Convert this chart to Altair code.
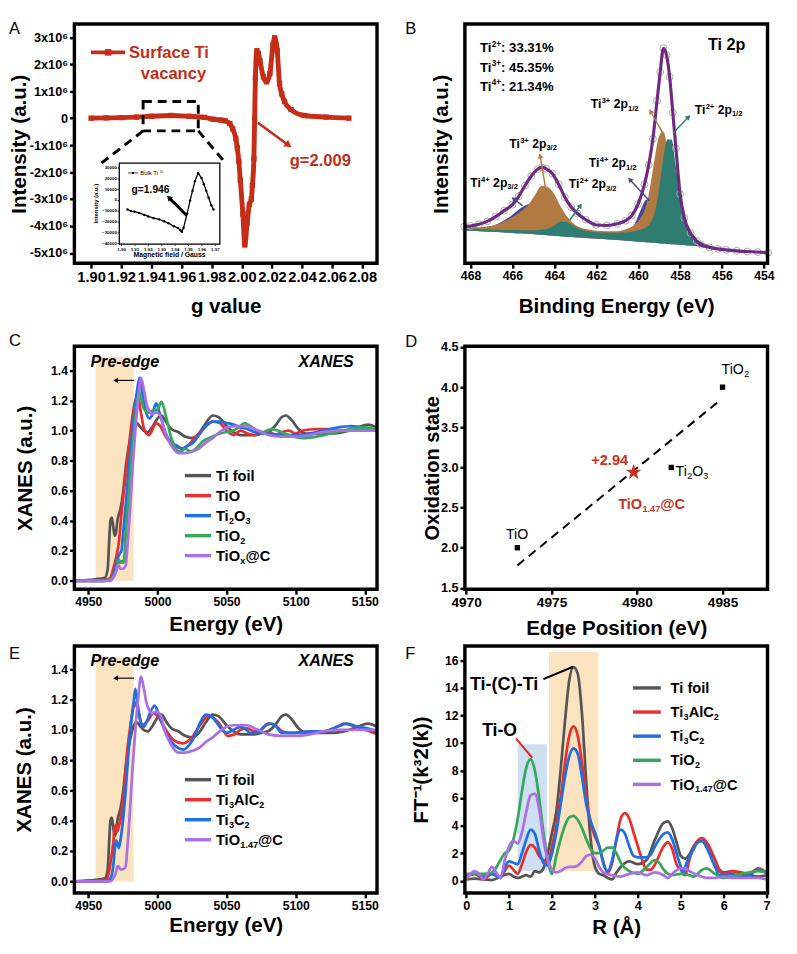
import math
import pandas as pd
import altair as alt

FONT = "Liberation Sans, Arial, Helvetica, sans-serif"

# ---------------- data ----------------
# A: EPR (surface Ti vacancy), intensity in units of 1e6
A_G = [1.900, 1.910, 1.920, 1.930, 1.940, 1.953, 1.965, 1.975, 1.981, 1.986,
       1.989, 1.992, 1.994, 1.996, 1.997, 1.998, 1.999, 2.0007, 2.002, 2.0035,
       2.005, 2.0063, 2.007, 2.008, 2.0085, 2.009, 2.010, 2.011, 2.012, 2.0143,
       2.0164, 2.0186, 2.0207, 2.0218, 2.0235, 2.025, 2.0265, 2.0283, 2.0326, 2.0412,
       2.056, 2.071]
A_I = [0.0, 0.01, 0.02, 0.04, 0.07, 0.10, 0.07, 0.03, -0.04, -0.07,
       -0.10, -0.20, -0.40, -0.75, -1.10, -1.60, -2.30, -3.55, -4.70, -3.90,
       -3.20, -3.00, -2.50, -1.50, 0.00, 1.50, 2.50, 2.40, 2.13, 1.53,
       1.35, 1.65, 2.73, 2.98, 2.50, 1.28, 0.90, 0.62, 0.32, 0.10,
       0.04, 0.00]
A_XT = [1.90, 1.92, 1.94, 1.96, 1.98, 2.00, 2.02, 2.04, 2.06, 2.08]
A_YT = [-5, -4, -3, -2, -1, 0, 1, 2, 3]
# A inset: bulk Ti3+
I_G = [1.9044, 1.9070, 1.9097, 1.9130, 1.917, 1.920, 1.924, 1.928, 1.9317, 1.935,
       1.939, 1.9420, 1.9439, 1.9450, 1.9463, 1.9490, 1.9512, 1.9530, 1.9548, 1.9572,
       1.9597, 1.9615, 1.9633, 1.9650, 1.967, 1.9687]
I_V = [-8300, -9800, -10400, -11500, -13400, -14800, -16400, -17500, -19300, -21000,
       -23800, -25500, -27400, -29000, -25300, -12000, 0, 9000, 17900, 25300,
       20800, 15000, 8900, 2500, -4500, -8300]
I_XT = [1.90, 1.91, 1.92, 1.93, 1.94, 1.95, 1.96, 1.97]
I_YT = [-40000, -30000, -20000, -10000, 0, 10000, 20000, 30000]

# B: XPS Ti 2p (arbitrary units 0-100)
B_E = [468.3, 467.5, 467.0, 466.5, 466.0, 465.6, 465.2, 464.9, 464.6, 464.3,
       464.0, 463.7, 463.4, 463.0, 462.5, 462.0, 461.5, 461.0, 460.5, 460.2,
       459.9, 459.6, 459.4, 459.2, 459.0, 458.8, 458.6, 458.4, 458.2, 458.0,
       457.7, 457.4, 457.0, 456.5, 456.0, 455.0, 453.8]
B_BASE = [14.6, 14.3, 14.1, 13.9, 13.8, 13.6, 13.5, 13.4, 13.4, 13.3,
          13.3, 13.2, 13.1, 13.0, 12.8, 12.6, 12.4, 12.2, 12.0, 11.9,
          11.8, 11.7, 11.6, 11.5, 11.3, 11.1, 10.9, 10.6, 10.3, 9.9,
          9.3, 8.6, 7.8, 6.7, 5.8, 5.1, 4.4]
B_FLOOR = [13.7, 13.4, 13.2, 13.0, 12.7, 12.5, 12.3, 12.1, 11.9, 11.7,
           11.5, 11.3, 11.1, 10.9, 10.6, 10.3, 10.0, 9.7, 9.4, 9.2,
           9.0, 8.8, 8.7, 8.6, 8.4, 8.3, 8.2, 8.0, 7.9, 7.7,
           7.5, 7.3, 7.0, 6.3, 5.5, 4.9, 4.2]
B_TI4 = [0.3, 0.8, 1.5, 3.5, 6.5, 9.5, 11.2, 10.0, 7.5, 4.8,
         2.8, 1.5, 0.8, 0.3, 0.2, 0.2, 0.3, 0.5, 1.5, 4.0,
         10.0, 15.0, 12.0, 7.0, 3.5, 1.5, 0.8, 0.5, 0.3, 0.2,
         0.1, 0, 0, 0, 0, 0, 0]
B_TI3 = [0.3, 0.8, 1.5, 3.0, 5.5, 8.0, 11.5, 15.5, 19.0, 18.5,
         15.5, 10.5, 6.5, 3.0, 1.5, 1.0, 1.0, 1.2, 2.5, 4.0,
         7.0, 13.0, 22.0, 33.0, 42.0, 44.0, 36.0, 20.0, 8.0, 3.5,
         1.5, 0.6, 0.2, 0.1, 0, 0, 0]
B_TI2 = [0, 0, 0, 0, 0.1, 0.2, 0.3, 0.4, 0.6, 1.2,
         2.5, 4.3, 4.0, 2.2, 0.8, 0.4, 0.4, 0.6, 1.0, 1.5,
         2.2, 3.5, 5.5, 10.0, 20.0, 33.0, 41.0, 41.0, 30.0, 19.0,
         8.0, 3.0, 1.2, 0.5, 0.2, 0, 0]
B_ENV_E = [468.3, 468.0, 467.6, 467.2, 466.8, 466.4, 466.0, 465.7, 465.4, 465.1,
           464.8, 464.6, 464.4, 464.1, 463.8, 463.5, 463.2, 462.9, 462.5, 462.0,
           461.5, 461.0, 460.6, 460.3, 460.0, 459.7, 459.5, 459.3, 459.1, 458.95,
           458.8, 458.65, 458.5, 458.35, 458.2, 458.0, 457.8, 457.5, 457.2, 457.0,
           456.6, 456.2, 455.8, 455.3, 454.8, 454.3, 453.8]
B_ENV = [15.3, 15.6, 16.3, 17.5, 19.5, 22.0, 24.5, 28.0, 32.5, 36.5,
         39.3, 40.1, 39.6, 37.5, 33.0, 27.6, 23.5, 20.8, 18.2, 16.0,
         15.8, 16.5, 17.8, 20.0, 24.8, 33.0, 41.1, 52.0, 68.0, 80.0,
         89.9, 87.0, 77.9, 63.0, 48.0, 28.9, 19.0, 12.6, 9.3, 7.8,
         6.6, 6.0, 5.6, 5.2, 4.9, 4.7, 4.4]
B_XT = [468, 466, 464, 462, 460, 458, 456, 454]

# C / E: XANES
FOIL_E = [4940, 4955, 4962, 4964, 4965, 4966, 4967, 4968, 4969, 4970,
          4971, 4972, 4973, 4975, 4977, 4979, 4981, 4983, 4985, 4987,
          4990, 4993, 4996, 5000, 5003, 5006, 5010, 5015, 5020, 5025,
          5030, 5035, 5040, 5044, 5050, 5055, 5060, 5065, 5070, 5075,
          5080, 5085, 5090, 5093, 5097, 5102, 5107, 5115, 5125, 5135,
          5145, 5152, 5159]
FOIL_V = [0.0, 0.01, 0.02, 0.08, 0.25, 0.40, 0.42, 0.36, 0.30, 0.32,
          0.40, 0.44, 0.47, 0.58, 0.75, 0.88, 0.97, 1.03, 1.05, 1.03,
          1.00, 0.99, 1.02, 1.08, 1.10, 1.06, 1.01, 0.99, 0.96, 0.95,
          0.98, 1.05, 1.10, 1.09, 1.03, 0.99, 0.97, 0.97, 0.97, 0.98,
          0.99, 1.03, 1.09, 1.10, 1.07, 1.01, 0.98, 0.98, 0.98, 0.99,
          1.02, 1.04, 1.02]
TIO_E = [4940, 4960, 4964, 4966, 4968, 4970, 4972, 4974, 4976, 4978,
         4980, 4982, 4984, 4986, 4988, 4990, 4992, 4994, 4996, 4999,
         5002, 5006, 5010, 5014, 5018, 5022, 5026, 5030, 5035, 5040,
         5045, 5050, 5055, 5060, 5065, 5070, 5075, 5080, 5085, 5090,
         5095, 5100, 5105, 5115, 5125, 5135, 5145, 5159]
TIO_V = [0.0, 0.0, 0.01, 0.02, 0.08, 0.15, 0.25, 0.45, 0.62, 0.78,
         0.95, 1.10, 1.20, 1.22, 1.12, 1.02, 0.98, 0.97, 1.00, 1.05,
         1.03, 0.96, 0.91, 0.89, 0.88, 0.90, 0.94, 0.98, 1.03, 1.06,
         1.05, 1.00, 0.97, 1.00, 0.98, 0.97, 0.98, 1.00, 0.97, 0.99,
         1.00, 0.98, 1.00, 1.01, 1.01, 1.00, 1.01, 1.00]
T2O3_E = [4940, 4962, 4966, 4968, 4970, 4972, 4974, 4975, 4977, 4979,
          4981, 4983, 4985, 4987, 4989, 4991, 4994, 4996, 4999, 5002,
          5006, 5010, 5014, 5018, 5022, 5026, 5030, 5035, 5040, 5045,
          5050, 5055, 5060, 5065, 5070, 5075, 5080, 5090, 5100, 5110,
          5120, 5130, 5140, 5150, 5159]
T2O3_V = [0.0, 0.0, 0.01, 0.04, 0.10, 0.17, 0.20, 0.30, 0.50, 0.72,
          0.92, 1.10, 1.25, 1.35, 1.25, 1.15, 1.08, 1.10, 1.18, 1.10,
          0.98, 0.92, 0.90, 0.88, 0.90, 0.92, 0.97, 1.03, 1.06, 1.06,
          1.05, 1.04, 1.02, 1.01, 0.99, 0.98, 0.98, 0.97, 0.97, 0.98,
          1.00, 1.02, 1.03, 1.02, 1.00]
TIO2_E = [4940, 4962, 4966, 4969, 4971, 4972, 4973, 4974, 4975, 4976,
          4977, 4979, 4981, 4983, 4985, 4987, 4988, 4990, 4993, 4996,
          5000, 5003, 5006, 5010, 5014, 5017, 5020, 5024, 5028, 5033,
          5040, 5045, 5050, 5055, 5060, 5063, 5067, 5072, 5077, 5082,
          5087, 5092, 5098, 5105, 5115, 5125, 5135, 5145, 5152, 5159]
TIO2_V = [0.0, 0.0, 0.01, 0.04, 0.10, 0.14, 0.12, 0.13, 0.12, 0.15,
          0.30, 0.55, 0.80, 1.00, 1.18, 1.25, 1.22, 1.15, 1.12, 1.13,
          1.14, 1.19, 1.10, 0.95, 0.87, 0.86, 0.88, 0.86, 0.88, 0.93,
          0.96, 0.98, 0.99, 1.00, 1.03, 1.05, 1.03, 1.00, 0.99, 1.01,
          1.00, 0.98, 0.96, 0.95, 0.96, 0.98, 1.00, 1.02, 1.02, 1.00]
TIOX_E = [4940, 4962, 4966, 4968, 4970, 4971, 4972, 4973, 4975, 4977,
          4978, 4980, 4982, 4984, 4986, 4988, 4990, 4992, 4994, 4996,
          4999, 5002, 5005, 5010, 5015, 5020, 5025, 5030, 5035, 5040,
          5045, 5050, 5055, 5060, 5065, 5070, 5075, 5080, 5090, 5100,
          5110, 5120, 5130, 5140, 5150, 5159]
TIOX_V = [0.0, 0.0, 0.0, 0.02, 0.06, 0.10, 0.10, 0.08, 0.08, 0.10,
          0.20, 0.45, 0.75, 1.00, 1.20, 1.35, 1.28, 1.18, 1.13, 1.11,
          1.12, 1.10, 1.00, 0.90, 0.85, 0.85, 0.86, 0.88, 0.92, 0.95,
          0.99, 1.02, 1.03, 1.03, 1.03, 1.01, 0.99, 0.97, 0.96, 0.96,
          0.97, 0.99, 1.00, 1.00, 1.00, 1.00]
T3A_E = [4940, 4962, 4964, 4966, 4968, 4969, 4970, 4971, 4972, 4974,
         4976, 4978, 4980, 4982, 4984, 4986, 4989, 4993, 4997, 5001,
         5006, 5012, 5018, 5024, 5030, 5037, 5044, 5051, 5056, 5060,
         5065, 5070, 5075, 5080, 5085, 5090, 5095, 5100, 5110, 5120,
         5130, 5135, 5140, 5150, 5159]
T3A_V = [0.0, 0.01, 0.03, 0.12, 0.25, 0.35, 0.37, 0.33, 0.36, 0.45,
         0.62, 0.85, 1.00, 1.12, 1.18, 1.12, 1.03, 1.06, 1.11, 1.08,
         1.00, 0.93, 0.91, 0.94, 1.02, 1.09, 1.05, 0.96, 0.97, 1.00,
         1.01, 0.99, 1.00, 1.04, 1.03, 0.99, 0.98, 0.98, 0.99, 0.99,
         1.02, 1.04, 1.03, 1.00, 0.97]
T3C_E = [4940, 4963, 4966, 4968, 4969, 4970, 4971, 4972, 4973, 4975,
         4977, 4979, 4981, 4983, 4984, 4986, 4988, 4990, 4992, 4995,
         4998, 5001, 5005, 5010, 5015, 5019, 5023, 5027, 5031, 5035,
         5040, 5045, 5050, 5055, 5060, 5063, 5067, 5072, 5077, 5082,
         5085, 5090, 5095, 5100, 5110, 5120, 5130, 5137, 5145, 5155,
         5159]
T3C_V = [0.0, 0.0, 0.02, 0.10, 0.20, 0.27, 0.25, 0.22, 0.26, 0.40,
         0.60, 0.85, 1.05, 1.20, 1.27, 1.15, 1.05, 1.02, 1.05, 1.12,
         1.16, 1.10, 1.00, 0.92, 0.88, 0.87, 0.90, 0.96, 1.05, 1.10,
         1.08, 1.02, 0.98, 1.00, 1.02, 1.01, 0.98, 0.98, 1.02, 1.04,
         1.03, 0.98, 0.98, 0.98, 0.99, 0.99, 1.02, 1.04, 1.02, 1.00,
         0.98]
XAN_XT = [4950, 5000, 5050, 5100, 5150]
XAN_YT = [0.0, 0.2, 0.4, 0.6, 0.8, 1.0, 1.2, 1.4]

# D: oxidation state vs edge position
D_X = [4973, 4982, 4985]
D_Y = [2.0, 3.0, 4.0]
D_STAR_X = [4979.8]
D_STAR_Y = [2.94]
D_FIT_X = [4973.0, 4984.7]
D_FIT_Y = [1.78, 3.81]
D_XT = [4970, 4975, 4980, 4985]
D_YT = [1.5, 2.0, 2.5, 3.0, 3.5, 4.0, 4.5]

# F: EXAFS R-space
FOIL_R = [0, 0.2, 0.4, 0.6, 0.8, 1.0, 1.1, 1.2, 1.3, 1.4,
          1.5, 1.6, 1.7, 1.8, 1.9, 2.0, 2.1, 2.2, 2.3, 2.4,
          2.5, 2.6, 2.7, 2.8, 2.9, 3.0, 3.1, 3.2, 3.3, 3.4,
          3.5, 3.6, 3.8, 4.0, 4.2, 4.4, 4.6, 4.7, 4.8, 4.9,
          5.0, 5.1, 5.2, 5.3, 5.5, 5.6, 5.8, 5.9, 6.0, 6.2,
          6.4, 6.6, 6.8, 7.0]
FOIL_FT = [0.1, 0.15, 0.1, 0.05, 0.3, 0.5, 0.3, 0.2, 0.3, 0.4,
           0.3, 0.7, 0.6, 0.9, 2.0, 3.5, 5.0, 8.0, 11.5, 14.5,
           15.5, 15.0, 12.0, 7.0, 3.0, 1.0, 0.5, 0.4, 0.2, 0.1,
           0.6, 1.0, 1.4, 1.2, 1.5, 3.0, 4.2, 4.3, 3.8, 2.8,
           1.8, 1.6, 1.9, 2.5, 2.9, 2.5, 1.5, 0.8, 0.6, 0.7,
           0.5, 0.4, 0.3, 0.4]
T3A_R = [0, 0.2, 0.4, 0.6, 0.8, 1.0, 1.1, 1.2, 1.3, 1.4,
         1.5, 1.6, 1.7, 1.8, 1.9, 2.0, 2.1, 2.2, 2.3, 2.4,
         2.5, 2.6, 2.7, 2.8, 2.9, 3.0, 3.1, 3.2, 3.3, 3.4,
         3.5, 3.6, 3.7, 3.8, 3.9, 4.0, 4.1, 4.2, 4.3, 4.4,
         4.6, 4.7, 4.8, 4.9, 5.0, 5.1, 5.2, 5.3, 5.5, 5.6,
         5.8, 5.9, 6.0, 6.2, 6.4, 6.6, 6.8, 6.9, 7.0]
T3A_FT = [0.3, 0.5, 0.1, 0.5, 0.3, 1.1, 0.8, 0.5, 1.2, 2.1,
          2.6, 2.4, 1.8, 1.5, 1.3, 2.5, 4.0, 6.0, 8.5, 10.5,
          11.2, 10.5, 8.5, 6.0, 4.2, 3.2, 2.5, 1.3, 0.6, 1.3,
          3.0, 4.5, 4.9, 4.5, 3.5, 2.5, 1.5, 0.8, 0.8, 1.2,
          2.5, 2.8, 2.3, 1.2, 0.8, 0.4, 1.5, 2.5, 3.1, 2.8,
          1.5, 0.7, 0.5, 0.7, 0.6, 0.5, 0.9, 0.8, 0.5]
T3C_R = [0, 0.2, 0.4, 0.6, 0.8, 0.9, 1.0, 1.1, 1.2, 1.3,
         1.4, 1.5, 1.6, 1.7, 1.8, 1.9, 2.0, 2.1, 2.2, 2.3,
         2.4, 2.5, 2.6, 2.7, 2.8, 2.9, 3.0, 3.1, 3.2, 3.3,
         3.4, 3.5, 3.6, 3.7, 3.8, 3.9, 4.0, 4.2, 4.3, 4.4,
         4.6, 4.7, 4.8, 4.9, 5.0, 5.05, 5.1, 5.3, 5.4, 5.5,
         5.6, 5.8, 5.9, 6.0, 6.2, 6.4, 6.6, 6.8, 7.0]
T3C_FT = [0.4, 0.5, 0.3, 0.5, 0.2, 1.0, 1.4, 1.3, 1.2, 2.0,
          3.0, 3.7, 3.4, 2.2, 1.3, 1.1, 2.0, 3.5, 5.5, 7.5,
          9.0, 9.6, 9.2, 7.5, 5.5, 4.3, 3.5, 2.5, 1.2, 0.7,
          1.5, 3.0, 3.7, 3.4, 2.5, 1.8, 1.7, 1.7, 1.9, 2.5,
          3.4, 3.5, 3.0, 2.0, 1.0, 0.5, 1.0, 2.3, 2.8, 2.9,
          2.4, 1.0, 0.4, 0.4, 0.5, 0.3, 0.4, 0.8, 0.6]
TIO2_R = [0, 0.2, 0.4, 0.6, 0.8, 0.9, 1.0, 1.1, 1.2, 1.3,
          1.4, 1.5, 1.6, 1.7, 1.8, 1.9, 2.0, 2.1, 2.2, 2.3,
          2.4, 2.5, 2.6, 2.7, 2.8, 2.9, 3.0, 3.1, 3.2, 3.3,
          3.4, 3.5, 3.6, 3.8, 4.0, 4.2, 4.4, 4.5, 4.6, 4.8,
          5.0, 5.2, 5.3, 5.5, 5.6, 5.8, 6.0, 6.2, 6.4, 6.6,
          6.8, 7.0]
TIO2_FT = [0.5, 0.5, 0.5, 0.6, 1.5, 2.0, 2.2, 3.0, 4.5, 6.5,
           8.2, 8.8, 8.0, 6.0, 3.5, 1.5, 0.5, 1.8, 3.0, 4.0,
           4.6, 4.7, 4.4, 3.8, 3.0, 2.3, 2.0, 2.0, 2.2, 2.4,
           2.4, 2.0, 1.3, 0.7, 0.5, 1.0, 1.5, 1.3, 0.8, 0.4,
           0.5, 0.4, 0.3, 0.8, 0.9, 0.5, 0.2, 0.3, 0.5, 0.6,
           0.7, 0.6]
TIOX_R = [0, 0.1, 0.2, 0.3, 0.4, 0.5, 0.6, 0.7, 0.8, 0.9,
          1.0, 1.1, 1.2, 1.3, 1.4, 1.5, 1.6, 1.7, 1.8, 1.9,
          2.0, 2.1, 2.2, 2.3, 2.4, 2.5, 2.6, 2.7, 2.8, 2.9,
          3.0, 3.1, 3.2, 3.4, 3.6, 3.8, 4.0, 4.2, 4.4, 4.6,
          4.7, 4.8, 5.0, 5.1, 5.2, 5.4, 5.6, 5.8, 6.0, 6.2,
          6.4, 6.6, 6.8, 7.0]
TIOX_FT = [0.1, 0.5, 0.7, 0.5, 0.1, 0.5, 1.0, 0.6, 0.2, 1.5,
           2.5, 2.9, 2.7, 3.5, 5.0, 6.2, 6.3, 5.2, 3.0, 1.5,
           0.8, 0.6, 0.7, 0.9, 1.0, 1.0, 1.1, 1.4, 1.8, 1.9,
           1.6, 1.0, 0.6, 0.4, 0.3, 0.5, 0.6, 0.4, 0.6, 0.4,
           0.2, 0.5, 0.9, 0.9, 0.7, 0.4, 0.2, 0.2, 0.3, 0.2,
           0.2, 0.2, 0.2, 0.1]
F_XT = [0, 1, 2, 3, 4, 5, 6, 7]
F_YT = [0, 2, 4, 6, 8, 10, 12, 14, 16]

# ---------------- colours ----------------
RED_A = "#c62d17"
GREY = "#555555"
RED = "#ec2d2d"
BLUE = "#1e6fe3"
GREEN = "#34a85a"
PURPLE = "#ab6fe6"
SH_OR = "#fbe3bf"
SH_BL = "#cddff1"
NAVY = "#47468f"
BROWN = "#b07a42"
TEAL = "#2f7d72"
ENVC = "#6e2a80"
DRED = "#c8321e"

STAR = ("M0,-1L0.235,-0.324L0.951,-0.309L0.38,0.124L0.588,0.809L0,0.4"
        "L-0.588,0.809L-0.38,0.124L-0.951,-0.309L-0.235,-0.324Z")

ONE = pd.DataFrame({"k": [0]})

BW = {'T': .611, 'i': .278, 'O': .778, 'p': .611, ' ': .278, '+': .584, '/': .278,
      ':': .333, '.': .278, '%': .889, '@': .975, 'C': .722, 'x': .556, 'A': .722,
      'l': .278, '-': .333, 'g': .611, '=': .584, 'B': .722, 'u': .611, 'k': .556,
      'f': .333, 'o': .611, 'a': .556, 'c': .556, 'e': .556, 'n': .611, 'r': .389,
      's': .556, 't': .333, 'v': .556, 'y': .556, 'd': .611, 'P': .667, 'X': .667,
      'N': .722, 'E': .667, 'S': .667}
RW = {'T': .611, 'i': .222, 'O': .778, ' ': .278, '@': 1.015, 'C': .722}


def tw(s, size, bold=True):
    tbl = BW if bold else RW
    return sum(tbl.get(c, 0.556) for c in s) * size


SUBR = 0.62


def rich(parts, x, y, size, color="black", weight="bold", align="left", sc=None, style="normal"):
    """text with super/subscripts; sc = (xscale, yscale, xaxis, yaxis) for data coordinates"""
    bold = weight == "bold"
    tot = sum(tw(t, size if k == "n" else size * SUBR, bold) for t, k in parts)
    cur = 0.0 if align == "left" else -tot / 2.0
    out = []
    for t, k in parts:
        fs = round(size if k == "n" else size * SUBR, 2)
        lead = len(t) - len(t.lstrip(" "))
        cur += tw(" " * lead, fs, bold)
        t = t.lstrip(" ")
        dy = size * 0.35
        if k == "sup":
            dy -= size * 0.42
        elif k == "sub":
            dy += size * 0.2
        data = ONE if sc is None else pd.DataFrame({"x": [x], "y": [y]})
        m = alt.Chart(data).mark_text(text=t, align="left", baseline="alphabetic", dx=round(cur, 2),
                                      dy=round(dy, 2), fontSize=fs, fontWeight=weight, font=FONT,
                                      color=color, fontStyle=style)
        if sc is None:
            m = m.encode(x=alt.value(x), y=alt.value(y))
        else:
            m = m.encode(x=alt.X("x:Q", scale=sc[0], axis=sc[2]), y=alt.Y("y:Q", scale=sc[1], axis=sc[3]))
        out.append(m)
        cur += tw(t, fs, bold)
    return out


def label(s, x, y):
    return alt.Chart(ONE).mark_text(text=s, align="left", baseline="top", fontSize=17,
                                    fontWeight="normal", font=FONT, color="black").encode(
        x=alt.value(x), y=alt.value(y))


def arrow(x1, y1, x2, y2, color, width, head):
    L = math.hypot(x2 - x1, y2 - y1)
    ux, uy = (x2 - x1) / L, (y2 - y1) / L
    r = math.sqrt(head) / 2.0
    cx, cy = round(x2 - ux * r * 0.8, 2), round(y2 - uy * r * 0.8, 2)
    ang = round(math.degrees(math.atan2(ux, -uy)) % 360, 2)
    line = alt.Chart(ONE).mark_rule(color=color, strokeWidth=width).encode(
        x=alt.value(x1), y=alt.value(y1), x2=alt.value(cx), y2=alt.value(cy))
    tip = alt.Chart(ONE).mark_point(shape="triangle-up", filled=True, size=head, color=color,
                                    opacity=1, angle=ang).encode(
        x=alt.value(cx), y=alt.value(cy))
    return [line, tip]


def frame(w, h, sw=3.5, x0=0, y0=0):
    return alt.Chart(ONE).mark_rect(filled=False, stroke="black", strokeWidth=sw).encode(
        x=alt.value(x0), x2=alt.value(x0 + w), y=alt.value(y0), y2=alt.value(y0 + h))


def box(h, top, bottom):
    # invisible extent box so every panel occupies a fixed area in the layout
    return alt.Chart(ONE).mark_rect(opacity=0).encode(
        x=alt.value(-68), x2=alt.value(W + 22), y=alt.value(top), y2=alt.value(h + bottom))


def legend(entries, x0, x1, xt, y0, dy, size, lw=3.5):
    out = []
    for i, (parts, col) in enumerate(entries):
        y = y0 + i * dy
        out.append(alt.Chart(ONE).mark_rule(color=col, strokeWidth=lw).encode(
            x=alt.value(x0), x2=alt.value(x1), y=alt.value(y), y2=alt.value(y)))
        out += rich(parts, xt, y, size)
    return out


def xaxis(values, fmt, title, titleY, lsize):
    return alt.Axis(values=values, format=fmt, title=title, titleY=titleY, titleBaseline="middle",
                    labelFontSize=lsize, orient="bottom")


def yaxis(values, title, titleX, titleY, lsize, tsize=21, **kw):
    return alt.Axis(values=values, title=title, titleX=titleX, titleY=titleY, titleAngle=270,
                    titleBaseline="middle", titleAlign="center", labelFontSize=lsize,
                    titleFontSize=tsize, orient="left", **kw)


W = 310
H1 = 245
H2 = 249
H3 = 253

# ======================= A =======================
A_XD = [1.8889, 2.0897]
A_YD = [-5.38, 3.489]
xA = alt.Scale(domain=A_XD, nice=False, zero=False)
yA = alt.Scale(domain=A_YD, nice=False, zero=False)
yA_expr = "datum.value == 0 ? '0' : (datum.value < 0 ? '-' : '') + abs(datum.value) + 'x10\u2076'"
axAx = xaxis(A_XT, ".2f", "g value", 44, 15)
axAy = yaxis(A_YT, "Intensity (a.u.)", -56, H1 / 2, 13, labelExpr=yA_expr)


def XA(f):
    return alt.X(f, scale=xA, axis=axAx)


def YA(f):
    return alt.Y(f, scale=yA, axis=axAy)


dfA = pd.DataFrame({"g": A_G, "I": A_I})
lineA = alt.Chart(dfA).mark_line(color=RED_A, strokeWidth=5, interpolate="monotone").encode(
    x=XA("g:Q"), y=YA("I:Q"))
ptsA = alt.Chart(dfA).mark_point(shape="square", filled=True, size=30, color=RED_A, opacity=1).encode(
    x=XA("g:Q"), y=YA("I:Q"))
boxA = alt.Chart(pd.DataFrame({"x1": [1.9345], "x2": [1.9711], "y1": [-0.47], "y2": [0.62]})).mark_rect(
    filled=False, stroke="black", strokeWidth=3, strokeDash=[9, 6]).encode(
    x=XA("x1:Q"), x2="x2:Q", y=YA("y1:Q"), y2="y2:Q")
connA = alt.Chart(pd.DataFrame({"x1": [1.9345, 1.9711], "x2": [1.9065, 1.9894],
                                "y1": [-0.47, -0.47], "y2": [-1.68, -1.68]})).mark_rule(
    color="black", strokeWidth=3, strokeDash=[9, 6]).encode(
    x=XA("x1:Q"), x2="x2:Q", y=YA("y1:Q"), y2="y2:Q")
legA = [alt.Chart(ONE).mark_rule(color=RED_A, strokeWidth=4).encode(
            x=alt.value(17), x2=alt.value(52), y=alt.value(29), y2=alt.value(29)),
        alt.Chart(ONE).mark_point(shape="square", filled=True, size=45, color=RED_A, opacity=1).encode(
            x=alt.value(34.5), y=alt.value(29))]
legA += rich([("Surface Ti", "n")], 56, 29, 17, color=RED_A)
legA += rich([("vacancy", "n")], 101.5, 50, 17, color=RED_A, align="center")
legA += rich([("g=2.009", "n")], 252, 139, 17, color=RED_A, align="center")
legA += arrow(188, 101, 222, 126, RED_A, 2.5, 70)

# inset (bulk Ti3+): its own axes are mapped into the panel through calculated fields
IX0, IX1, IY0, IY1 = 46.0, 149.0, 142.5, 225.5      # inset box in panel pixels
I_XD = [1.8983, 1.9734]
I_YD = [-40500, 34500]


def gx(expr):
    return ("%f + (%f + ((%s) - %f) / %f * %f) / %f * %f" %
            (A_XD[0], IX0, expr, I_XD[0], I_XD[1] - I_XD[0], IX1 - IX0, W, A_XD[1] - A_XD[0]))


def iy(expr):
    return ("%f - (%f - ((%s) - %f) / %f * %f) / %f * %f" %
            (A_YD[1], IY1, expr, I_YD[0], I_YD[1] - I_YD[0], IY1 - IY0, H1, A_YD[1] - A_YD[0]))


def px2g(p):
    return "%f + %f / %f * %f" % (A_XD[0], p, W, A_XD[1] - A_XD[0])


def py2i(p):
    return "%f - %f / %f * %f" % (A_YD[1], p, H1, A_YD[1] - A_YD[0])


dfI = pd.DataFrame({"mg": I_G, "mi": I_V})
insLine = alt.Chart(dfI).transform_calculate(px=gx("datum.mg"), py=iy("datum.mi")).mark_line(
    color="black", strokeWidth=1.3).encode(x=XA("px:Q"), y=YA("py:Q"))
insPts = alt.Chart(dfI).transform_calculate(px=gx("datum.mg"), py=iy("datum.mi")).mark_circle(
    size=6, color="black", opacity=1).encode(x=XA("px:Q"), y=YA("py:Q"))
dfIX = pd.DataFrame({"t": I_XT})
dfIY = pd.DataFrame({"t": I_YT})
insXT = alt.Chart(dfIX).transform_calculate(px=gx("datum.t"), py=py2i(IY1), py2=py2i(IY1 + 1.8)).mark_rule(
    color="black", strokeWidth=0.8).encode(x=XA("px:Q"), y=YA("py:Q"), y2="py2:Q")
insXL = alt.Chart(dfIX).transform_calculate(px=gx("datum.t"), py=py2i(IY1 + 5.5),
                                            lab="format(datum.t, '.2f')").mark_text(
    fontSize=4.5, fontWeight="bold", font=FONT, color="black", baseline="middle").encode(
    x=XA("px:Q"), y=YA("py:Q"), text="lab:N")
insYT = alt.Chart(dfIY).transform_calculate(px=px2g(IX0), px2=px2g(IX0 - 1.8), py=iy("datum.t")).mark_rule(
    color="black", strokeWidth=0.8).encode(x=XA("px:Q"), x2="px2:Q", y=YA("py:Q"))
insYL = alt.Chart(dfIY).transform_calculate(px=px2g(IX0 - 2.5), py=iy("datum.t"),
                                            lab="format(datum.t, 'd')").mark_text(
    fontSize=4.5, fontWeight="bold", font=FONT, color="black", align="right", baseline="middle").encode(
    x=XA("px:Q"), y=YA("py:Q"), text="lab:N")
insExtra = [frame(IX1 - IX0, IY1 - IY0, sw=1.3, x0=IX0, y0=IY0),
            alt.Chart(ONE).mark_rule(color="black", strokeWidth=0.8).encode(
                x=alt.value(55), x2=alt.value(65), y=alt.value(152.5), y2=alt.value(152.5)),
            alt.Chart(ONE).mark_circle(size=5, color="black", opacity=1).encode(
                x=alt.value(60), y=alt.value(152.5)),
            alt.Chart(ONE).mark_text(text="Magnetic field / Gauss", fontSize=7, fontWeight="bold",
                                     font=FONT, color="black", baseline="middle").encode(
                x=alt.value((IX0 + IX1) / 2), y=alt.value(IY1 + 11.5)),
            alt.Chart(ONE).mark_text(text="Intensity (a.u.)", fontSize=6, fontWeight="bold",
                                     font=FONT, color="black", baseline="middle", angle=270).encode(
                x=alt.value(IX0 - 24), y=alt.value((IY0 + IY1) / 2))]
insExtra += rich([("Bulk Ti", "n"), ("3+", "sup")], 67.5, 152.5, 6, weight="normal")
insExtra += rich([("g=1.946", "n")], 78, 169, 10.5, align="center")
insExtra += arrow(115, 196, 95, 176, "black", 3, 40)

A = alt.layer(lineA, boxA, connA, ptsA, *legA, insLine, insPts, insXT, insXL, insYT, insYL, *insExtra,
              frame(W, H1), label("A", -67, -3), box(H1, -4.5, 70)).properties(width=W, height=H1)

# ======================= B =======================
xB = alt.Scale(domain=[453.83, 468.27], reverse=True, nice=False, zero=False)
yB = alt.Scale(domain=[0, 100], nice=False, zero=False)
axBx = xaxis(B_XT, "d", "Binding Energy (eV)", 44, 12.5)
axBy = alt.Axis(labels=False, ticks=False, title="Intensity (a.u.)", titleX=-24.3, titleY=H1 / 2,
                titleAngle=270, titleBaseline="middle", titleAlign="center", orient="left")
dfB = pd.DataFrame({"E": B_E, "floor": B_FLOOR, "base": B_BASE, "t4": B_TI4, "t3": B_TI3, "t2": B_TI2})
dfEnv = pd.DataFrame({"E": B_ENV_E, "v": B_ENV})


def comp(field, color):
    return alt.Chart(dfB).transform_calculate(top="datum.base + datum." + field).mark_area(
        color=color, opacity=1, interpolate="monotone").encode(
        x=alt.X("E:Q", scale=xB, axis=axBx), y=alt.Y("top:Q", scale=yB, axis=axBy),
        y2=alt.Y2("floor:Q"))


areaB = [comp("t4", NAVY), comp("t3", BROWN), comp("t2", TEAL)]
circB = alt.Chart(dfEnv).mark_point(shape="circle", filled=False, size=50, color="#a8a8a8",
                                    strokeWidth=1, opacity=1).encode(
    x=alt.X("E:Q", scale=xB, axis=axBx), y=alt.Y("v:Q", scale=yB, axis=axBy))
envB = alt.Chart(dfEnv).mark_line(color=ENVC, strokeWidth=3.2, interpolate="monotone").encode(
    x=alt.X("E:Q", scale=xB, axis=axBx), y=alt.Y("v:Q", scale=yB, axis=axBy))
txtB = []
txtB += rich([("Ti", "n"), ("2+", "sup"), (": 33.31%", "n")], 15.5, 24, 13.5)
txtB += rich([("Ti", "n"), ("3+", "sup"), (": 45.35%", "n")], 15.5, 44, 13.5)
txtB += rich([("Ti", "n"), ("4+", "sup"), (": 21.34%", "n")], 15.5, 63.5, 13.5)
txtB += rich([("Ti 2p", "n")], 249, 21, 16.5)
txtB += rich([("Ti", "n"), ("3+", "sup"), (" 2p", "n"), ("1/2", "sub")], 129, 82, 12.5)
txtB += rich([("Ti", "n"), ("2+", "sup"), (" 2p", "n"), ("1/2", "sub")], 235.5, 87.5, 12.5)
txtB += rich([("Ti", "n"), ("3+", "sup"), (" 2p", "n"), ("3/2", "sub")], 45.5, 122.5, 12.5)
txtB += rich([("Ti", "n"), ("4+", "sup"), (" 2p", "n"), ("1/2", "sub")], 127, 142.5, 12.5)
txtB += rich([("Ti", "n"), ("4+", "sup"), (" 2p", "n"), ("3/2", "sub")], 5.5, 162.5, 12.5)
txtB += rich([("Ti", "n"), ("2+", "sup"), (" 2p", "n"), ("3/2", "sub")], 106.5, 164, 12.5)
arrB = []
arrB += arrow(59, 186, 48, 177.5, NAVY, 1.5, 35)
arrB += arrow(82.3, 166, 76.7, 132.5, BROWN, 1.5, 35)
arrB += arrow(107.3, 201, 119.7, 184, TEAL, 1.5, 35)
arrB += arrow(189, 181, 167.3, 157.5, NAVY, 1.5, 35)
arrB += arrow(202.3, 111, 189, 87.5, BROWN, 1.5, 35)
arrB += arrow(213.3, 111.5, 230.7, 93.5, TEAL, 1.5, 35)
B = alt.layer(*areaB, circB, envB, *arrB, *txtB, frame(W, H1), label("B", -61, -3),
              box(H1, -4.5, 70)).properties(width=W, height=H1)


# ======================= C / E =======================
def xanes(series, ydom, h, shade_top, titleX, titleY_x, leg_y0, letter, letter_y, arrow_y, btop, bbot):
    xs = alt.Scale(domain=[4939.9, 5158.8], nice=False, zero=False)
    ys = alt.Scale(domain=ydom, nice=False, zero=False)
    axx = xaxis(XAN_XT, "d", "Energy (eV)", titleY_x, 12.5)
    axy = yaxis(XAN_YT, "XANES (a.u.)", titleX, h / 2, 12.5, format=".1f")
    shade = alt.Chart(pd.DataFrame({"x1": [4955.2], "x2": [4982.7], "y1": [0.0], "y2": [shade_top]})).mark_rect(
        color=SH_OR, opacity=1).encode(
        x=alt.X("x1:Q", scale=xs, axis=axx), x2="x2:Q",
        y=alt.Y("y1:Q", scale=ys, axis=axy), y2="y2:Q")
    lines = []
    for ex, vy, col, parts in series:
        d = pd.DataFrame({"E": ex, "V": vy})
        lines.append(alt.Chart(d).mark_line(color=col, strokeWidth=2.8, interpolate="monotone", clip=True).encode(
            x=alt.X("E:Q", scale=xs, axis=axx), y=alt.Y("V:Q", scale=ys, axis=axy)))
    extra = []
    extra += rich([("Pre-edge", "n")], 4976.4, 1.46, 16.5, align="center", sc=(xs, ys, axx, axy), style="italic")
    extra += rich([("XANES", "n")], 5122, 1.46, 16.5, align="center", sc=(xs, ys, axx, axy), style="italic")
    extra += arrow(61, arrow_y, 40, arrow_y, "black", 1.2, 30)
    extra += legend([(s[3], s[2]) for s in series], 113.3, 140, 145, leg_y0, 20.5, 15)
    return alt.layer(shade, *lines, *extra, frame(W, h), label(letter, -67, letter_y),
                     box(h, btop, bbot)).properties(width=W, height=h)


C = xanes([(FOIL_E, FOIL_V, GREY, [("Ti foil", "n")]),
           (TIO_E, TIO_V, RED, [("TiO", "n")]),
           (T2O3_E, T2O3_V, BLUE, [("Ti", "n"), ("2", "sub"), ("O", "n"), ("3", "sub")]),
           (TIO2_E, TIO2_V, GREEN, [("TiO", "n"), ("2", "sub")]),
           (TIOX_E, TIOX_V, PURPLE, [("TiO", "n"), ("x", "sub"), ("@C", "n")])],
          [-0.057, 1.561], H2, 1.49, -50, 36, 132.5, "C", -13.5, 35, -15, 56)
E = xanes([(FOIL_E, FOIL_V, GREY, [("Ti foil", "n")]),
           (T3A_E, T3A_V, RED, [("Ti", "n"), ("3", "sub"), ("AlC", "n"), ("2", "sub")]),
           (T3C_E, T3C_V, BLUE, [("Ti", "n"), ("3", "sub"), ("C", "n"), ("2", "sub")]),
           (TIOX_E, TIOX_V, PURPLE, [("TiO", "n"), ("1.47", "sub"), ("@C", "n")])],
          [-0.076, 1.553], H3, 1.475, -51, 34, 137, "E", 0, 33, -2, 48)

# ======================= D =======================
xD = alt.Scale(domain=[4969.93, 4987.63], nice=False, zero=False)
yD = alt.Scale(domain=[1.482, 4.51], nice=False, zero=False)
axDx = xaxis(D_XT, "d", "Edge Position (eV)", 40, 14)
axDy = yaxis(D_YT, "Oxidation state", -33, H2 / 2, 13, tsize=20.5, format=".1f")
SD = (xD, yD, axDx, axDy)
fitD = alt.Chart(pd.DataFrame({"x": D_FIT_X, "y": D_FIT_Y})).mark_line(
    color="black", strokeWidth=2, strokeDash=[9, 6]).encode(
    x=alt.X("x:Q", scale=xD, axis=axDx), y=alt.Y("y:Q", scale=yD, axis=axDy))
ptsD = alt.Chart(pd.DataFrame({"x": D_X, "y": D_Y})).mark_point(
    shape="square", filled=True, size=30, color="black", opacity=1).encode(
    x=alt.X("x:Q", scale=xD, axis=axDx), y=alt.Y("y:Q", scale=yD, axis=axDy))
starD = alt.Chart(pd.DataFrame({"x": D_STAR_X, "y": D_STAR_Y})).mark_point(
    shape=STAR, filled=True, size=280, color=DRED, opacity=1).encode(
    x=alt.X("x:Q", scale=xD, axis=axDx), y=alt.Y("y:Q", scale=yD, axis=axDy))
txtD = []
txtD += rich([("TiO", "n")], 4973.0, 2.17, 14.5, weight="normal", align="center", sc=SD)
txtD += rich([("Ti", "n"), ("2", "sub"), ("O", "n"), ("3", "sub")], 4982.25, 2.95, 14.5,
             weight="normal", sc=SD)
txtD += rich([("TiO", "n"), ("2", "sub")], 4985.75, 4.22, 14.5, weight="normal", align="center", sc=SD)
txtD += rich([("+2.94", "n")], 4978.4, 3.1, 15, color=DRED, align="center", sc=SD)
txtD += rich([("TiO", "n"), ("1.47", "sub"), ("@C", "n")], 4980.85, 2.55, 15, color=DRED,
             align="center", sc=SD)
D = alt.layer(fitD, ptsD, starD, *txtD, frame(W, H2), label("D", -61, -12.5),
              box(H2, -15, 56)).properties(width=W, height=H2)

# ======================= F =======================
xF = alt.Scale(domain=[-0.03, 7.02], nice=False, zero=False)
yF = alt.Scale(domain=[-0.885, 17.03], nice=False, zero=False)
axFx = xaxis(F_XT, "d", "R (\u00c5)", 36, 13)
axFy = yaxis(F_YT, "FT\u207b\u00b9(k\u00b32(k))", -44.3, H3 / 2, 12.5, format="d")


def XF(f):
    return alt.X(f, scale=xF, axis=axFx)


def YF(f):
    return alt.Y(f, scale=yF, axis=axFy)


shBlue = alt.Chart(pd.DataFrame({"x1": [1.2], "x2": [1.88], "y1": [0.7], "y2": [9.9]})).mark_rect(
    color=SH_BL, opacity=1).encode(x=XF("x1:Q"), x2="x2:Q", y=YF("y1:Q"), y2="y2:Q")
shOr = alt.Chart(pd.DataFrame({"x1": [1.93], "x2": [3.08], "y1": [0.7], "y2": [16.6]})).mark_rect(
    color=SH_OR, opacity=1).encode(x=XF("x1:Q"), x2="x2:Q", y=YF("y1:Q"), y2="y2:Q")
linesF = []
for rr, vv, col in [(FOIL_R, FOIL_FT, GREY), (T3A_R, T3A_FT, RED), (T3C_R, T3C_FT, BLUE),
                    (TIO2_R, TIO2_FT, GREEN), (TIOX_R, TIOX_FT, PURPLE)]:
    linesF.append(alt.Chart(pd.DataFrame({"R": rr, "V": vv})).mark_line(
        color=col, strokeWidth=2.8, interpolate="monotone", clip=True).encode(x=XF("R:Q"), y=YF("V:Q")))
annK = alt.Chart(pd.DataFrame({"x1": [1.80], "x2": [2.49], "y1": [14.62], "y2": [15.52]})).mark_rule(
    strokeWidth=2, color="black").encode(x=XF("x1:Q"), x2="x2:Q", y=YF("y1:Q"), y2="y2:Q")
annR = alt.Chart(pd.DataFrame({"x1": [1.16], "x2": [1.54], "y1": [10.33], "y2": [8.92]})).mark_rule(
    strokeWidth=2, color="#e8201c").encode(x=XF("x1:Q"), x2="x2:Q", y=YF("y1:Q"), y2="y2:Q")
txtF = []
txtF += rich([("Ti-(C)-Ti", "n")], 44.7, 39, 18.5, align="center")
txtF += rich([("Ti-O", "n")], 35.7, 85.5, 18, align="center")
txtF += legend([([("Ti foil", "n")], GREY),
                ([("Ti", "n"), ("3", "sub"), ("AlC", "n"), ("2", "sub")], RED),
                ([("Ti", "n"), ("3", "sub"), ("C", "n"), ("2", "sub")], BLUE),
                ([("TiO", "n"), ("2", "sub")], GREEN),
                ([("TiO", "n"), ("1.47", "sub"), ("@C", "n")], PURPLE)],
               172.3, 200.7, 210.7, 43, 24.7, 15)
F = alt.layer(shBlue, shOr, *linesF, annK, annR, *txtF, frame(W, H3), label("F", -61, 0.5),
              box(H3, -2, 48)).properties(width=W, height=H3)

row1 = alt.hconcat(A, B, spacing=0)
row2 = alt.hconcat(C, D, spacing=0)
row3 = alt.hconcat(E, F, spacing=0)
chart = alt.vconcat(row1, row2, row3, spacing=0)
chart = chart.configure_view(stroke=None).configure_axis(
    labelFont=FONT, titleFont=FONT, labelFontWeight="bold", titleFontWeight="bold",
    labelColor="black", titleColor="black", tickColor="black", tickSize=5, tickWidth=2.5,
    domain=False, grid=False, labelPadding=2, titleFontSize=21, labelOverlap=False,
    labelFlush=False).properties(padding=0, background="white")

chart.save("out.html", embed_options={"renderer": "svg", "actions": False})
